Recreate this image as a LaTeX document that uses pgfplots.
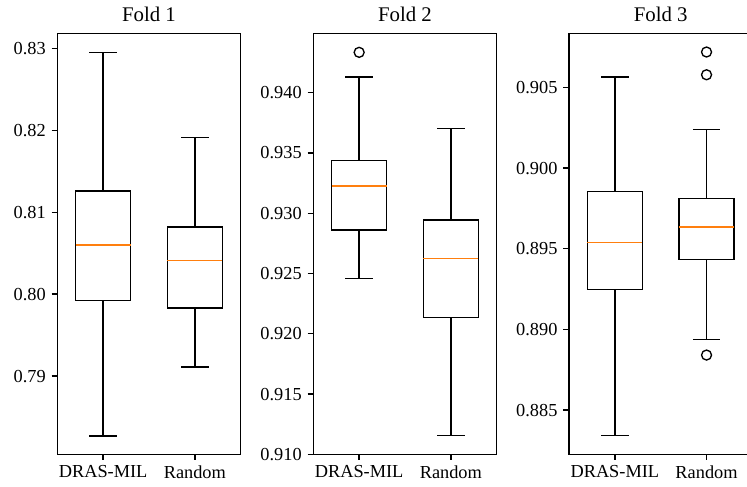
\documentclass[border=0pt]{standalone}
\usepackage{fontspec}
\setmainfont{Liberation Serif}
\usepackage{pgfplots}
\pgfplotsset{compat=1.18}
\usepgfplotslibrary{statistics}
\definecolor{mplorange}{HTML}{FF7F0E}
\pgfplotsset{
  fold/.style={
    scale only axis, width=110.04pt, height=252.6pt,
    xmin=0.5, xmax=2.5, xtick={1,2}, xticklabels={DRAS-MIL,Random},
    tick align=outside, tick pos=left, major tick length=3.4pt,
    axis line style={line width=0.8pt},
    every tick/.style={black, line width=0.8pt},
    ticklabel style={font=\fontsize{11}{13}\selectfont},
    /pgf/number format/assume math mode=true,
    every axis title/.style={font=\fontsize{12.5}{15}\selectfont, at={(0.5,1)}, anchor=base, yshift=7.2pt},
    boxplot/draw direction=y,
    boxplot/every median/.style={draw=mplorange, line width=0.85pt},
  },
  bx/.style={black, line width=0.8pt, mark=o, mark size=3pt, mark options={solid, line width=0.8pt}},
}
\begin{document}
\begin{tikzpicture}
\path[use as bounding box] (0,0) rectangle (448.2pt,292.2pt);
% Fold 1
\begin{axis}[fold, at={(34.38pt,19.62pt)}, anchor=south west, title={Fold 1},
  ymin=0.78045, ymax=0.83183, ytick={0.79,0.80,0.81,0.82,0.83},
  yticklabel style={/pgf/number format/.cd, fixed, fixed zerofill, precision=2}]
\addplot[bx, boxplot prepared={draw position=1, box extend=0.6, whisker extend=0.3,
  lower whisker=0.7827, lower quartile=0.7992, median=0.8060, upper quartile=0.8126, upper whisker=0.8295}] coordinates {};
\addplot[bx, boxplot prepared={draw position=2, box extend=0.6, whisker extend=0.3,
  lower whisker=0.7911, lower quartile=0.7983, median=0.8041, upper quartile=0.8082, upper whisker=0.8191}] coordinates {};
\end{axis}
% Fold 2
\begin{axis}[fold, at={(187.98pt,19.62pt)}, anchor=south west, title={Fold 2},
  ymin=0.910, ymax=0.94493, ytick={0.910,0.915,0.920,0.925,0.930,0.935,0.940},
  yticklabel style={/pgf/number format/.cd, fixed, fixed zerofill, precision=3}]
\addplot[bx, boxplot prepared={draw position=1, box extend=0.6, whisker extend=0.3,
  lower whisker=0.92459, lower quartile=0.92861, median=0.93225, upper quartile=0.9344, upper whisker=0.9413}] coordinates {(1,0.94335)};
\addplot[bx, boxplot prepared={draw position=2, box extend=0.6, whisker extend=0.3,
  lower whisker=0.91154, lower quartile=0.92133, median=0.92624, upper quartile=0.92945, upper whisker=0.93705}] coordinates {};
\end{axis}
% Fold 3
\begin{axis}[fold, at={(341.4pt,19.62pt)}, anchor=south west, title={Fold 3},
  ymin=0.88226, ymax=0.90835, ytick={0.885,0.890,0.895,0.900,0.905},
  yticklabel style={/pgf/number format/.cd, fixed, fixed zerofill, precision=3}]
\addplot[bx, boxplot prepared={draw position=1, box extend=0.6, whisker extend=0.3,
  lower whisker=0.88341, lower quartile=0.89248, median=0.8954, upper quartile=0.89856, upper whisker=0.90564}] coordinates {};
\addplot[bx, boxplot prepared={draw position=2, box extend=0.6, whisker extend=0.3,
  lower whisker=0.88936, lower quartile=0.89432, median=0.89634, upper quartile=0.89812, upper whisker=0.90237}] coordinates {(2,0.90719) (2,0.90578) (2,0.88841)};
\end{axis}
\end{tikzpicture}
\end{document}
